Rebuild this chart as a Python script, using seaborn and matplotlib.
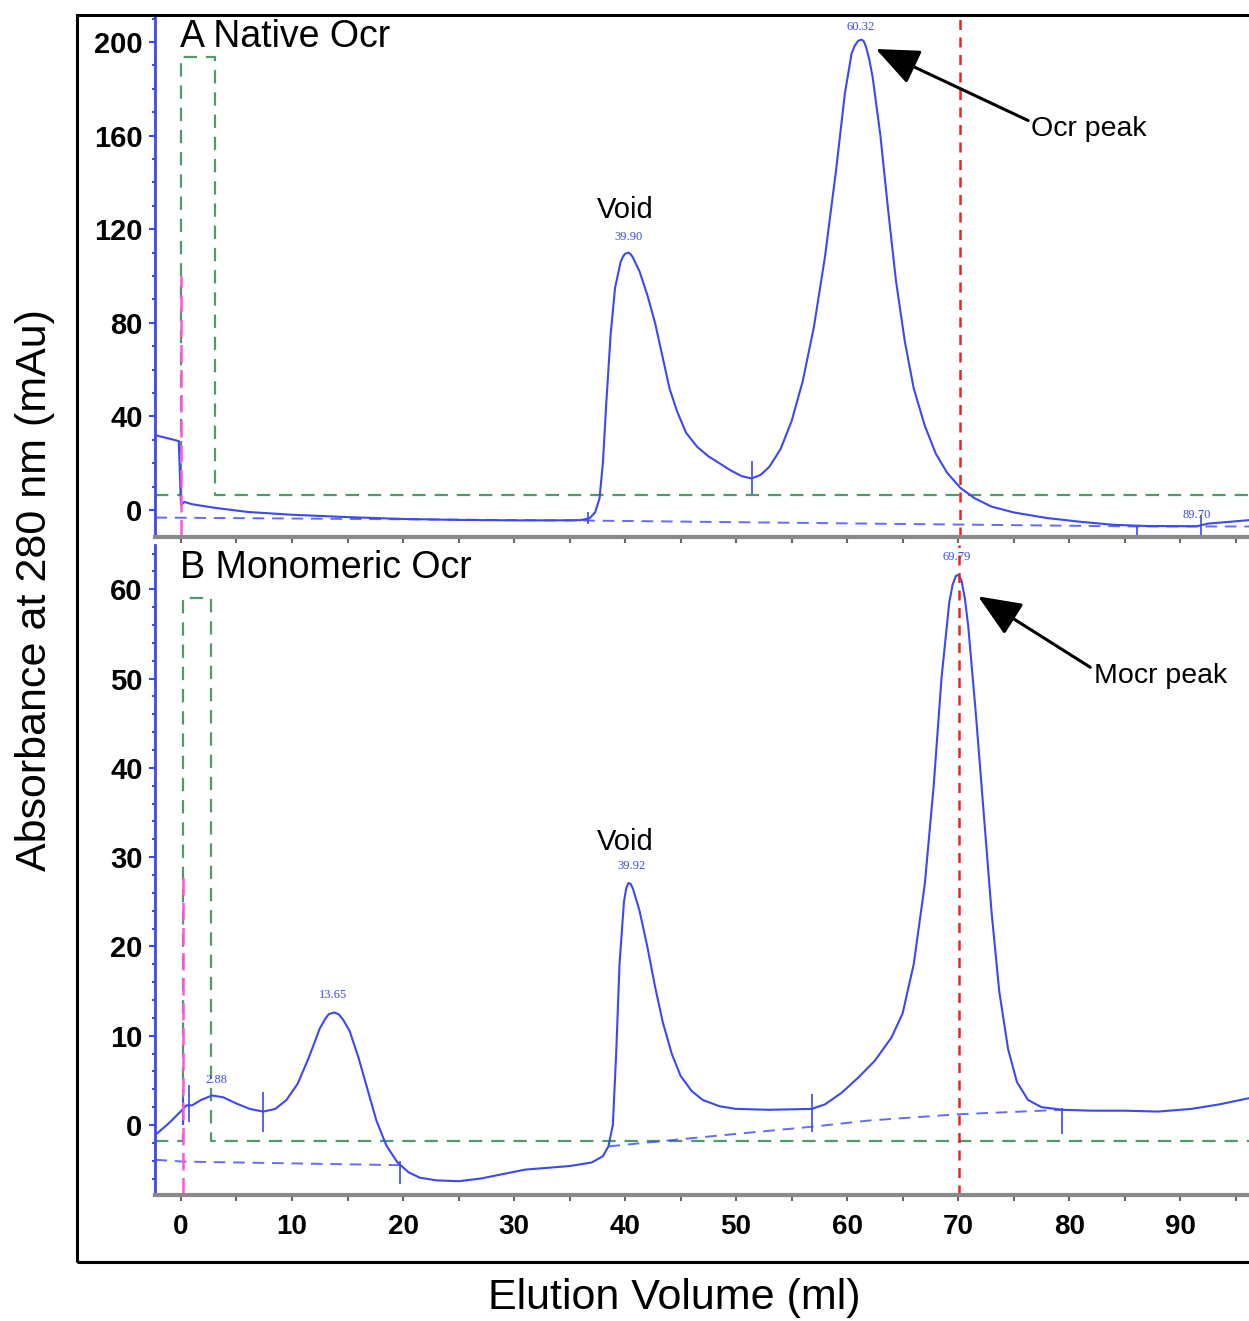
import numpy as np
import pandas as pd
import seaborn as sns
import matplotlib.pyplot as plt
from matplotlib.patches import Rectangle

# ---- data (elution volume ml, absorbance mAu) ----
native_ml = [-2.3, -0.2, 0.0, 0.3, 1, 3, 6, 10, 15, 20, 25, 30, 34, 36, 36.8, 37.3, 37.7,
             38.0, 38.3, 38.7, 39.1, 39.6, 39.8, 40.0, 40.3, 40.5, 40.7, 41.3, 42.0, 42.7,
             43.4, 44.0, 44.7, 45.5, 46.5, 47.5, 48.5, 49.5, 50.5, 51.4, 52.2, 53.0, 54.0,
             55.0, 56.0, 57.0, 58.0, 59.0, 59.8, 60.4, 60.7, 61.0, 61.3, 61.5, 61.7, 62.0,
             62.3, 63.0, 63.7, 64.4, 65.2, 66.0, 67.0, 68.0, 69.0, 70.2, 71.5, 73.0, 75.0,
             78.0, 81.0, 84.0, 87.0, 91.5, 92.5, 94.0, 96.2]
native_mau = [32, 29.5, 2, 3.5, 2.5, 1, -0.8, -2, -3, -3.8, -4.2, -4.4, -4.4, -4.3, -3.5, -1,
              5, 20, 45, 75, 95, 106, 108.2, 109.5, 110, 109.3, 108, 102, 92, 80, 65, 52, 42,
              33, 27, 23, 20, 17, 14.5, 13.5, 15, 18.5, 26, 38, 55, 78, 108, 145, 178, 195,
              198.5, 200.5, 201, 200.3, 198, 192.5, 185, 160, 128, 98, 72, 52, 36, 24, 16,
              9.5, 5, 1.5, -1, -3.4, -5, -6.3, -6.8, -6.9, -5.8, -5.2, -4.3]
native_base_ml = [-2.3, 36.7, 86.0, 96.2]
native_base_mau = [-3.2, -4.5, -7.0, -7.0]
native_gradient_ml = [-2.3, 0.0, 0.0, 3.1, 3.1, 96.2]
native_gradient_mau = [6.4, 6.4, 193.6, 193.6, 6.4, 6.4]
native_marks_ml = [36.7, 51.4, 86.1, 91.9]
native_marks_lo = [-6, 7, -12, -12]
native_marks_hi = [-1, 21, -6.5, -2]
native_peak_ml = [40.3, 61.2, 91.5]
native_peak_mau = [114, 204, -4.5]
native_peak_txt = ["39.90", "60.32", "89.70"]

mono_ml = [-2.3, -1, 0.2, 0.5, 1.0, 1.8, 2.8, 3.8, 5, 6.2, 7.4, 8.5, 9.5, 10.5, 11.5, 12.5,
           13.0, 13.3, 13.8, 14.2, 14.6, 15.2, 16.0, 16.8, 17.6, 18.5, 19.5, 20.5, 21.5, 23,
           25, 27, 29, 31, 33, 35, 37, 38, 38.5, 38.9, 39.2, 39.5, 39.9, 40.1, 40.3, 40.5,
           40.7, 41.3, 42.0, 42.7, 43.4, 44.2, 45.0, 46.0, 47.0, 48.5, 50, 53, 56.8, 58,
           59.5, 61, 62.5, 64, 65, 66, 67, 67.8, 68.5, 69.2, 69.5, 69.8, 70.0, 70.3, 70.6,
           70.9, 71.6, 72.3, 73.0, 73.7, 74.5, 75.3, 76.3, 77.5, 79.4, 82, 85, 88, 91, 93.5,
           96.2]
mono_mau = [-1.1, 0.3, 1.8, 2.2, 2.2, 2.8, 3.3, 3.1, 2.4, 1.8, 1.5, 1.8, 2.8, 4.6, 7.5, 10.8,
            11.9, 12.4, 12.6, 12.4, 11.8, 10.5, 7.5, 4.0, 0.5, -2.3, -4.2, -5.3, -5.9, -6.2,
            -6.3, -6.0, -5.5, -5.0, -4.8, -4.6, -4.2, -3.5, -2.4, 0, 8, 18, 25, 26.5, 27.1,
            27.0, 26.5, 24, 20, 15.5, 11.5, 8, 5.5, 3.8, 2.8, 2.1, 1.8, 1.7, 1.8, 2.3, 3.6,
            5.3, 7.2, 9.8, 12.5, 18, 27, 38, 50, 58.5, 60.5, 61.5, 61.6, 61, 59, 56, 46, 35,
            24, 15, 8.5, 4.8, 2.8, 2.0, 1.7, 1.6, 1.6, 1.5, 1.8, 2.3, 3.0]
mono_base1_ml = [-2.3, 0.2, 19.7]
mono_base1_mau = [-3.9, -4.1, -4.5]
mono_base2_ml = [38.5, 45, 50, 56.8, 62, 70, 79.4]
mono_base2_mau = [-2.4, -1.6, -1.0, -0.2, 0.5, 1.2, 1.7]
mono_gradient_ml = [-2.3, 0.2, 0.2, 2.7, 2.7, 96.2]
mono_gradient_mau = [-1.8, -1.8, 59, 59, -1.8, -1.8]
mono_marks_ml = [0.2, 0.7, 7.4, 19.7, 56.8, 79.4]
mono_marks_lo = [0, 0.3, -0.8, -6.6, -0.8, -1]
mono_marks_hi = [3, 4.5, 3.7, -4, 3.5, 1.9]
mono_peak_ml = [3.2, 13.7, 40.6, 69.9]
mono_peak_mau = [4.4, 13.9, 28.3, 62.9]
mono_peak_txt = ["2.88", "13.65", "39.92", "69.79"]

x_ticks = [0, 10, 20, 30, 40, 50, 60, 70, 80, 90]
native_yticks = [0, 40, 80, 120, 160, 200]
mono_yticks = [0, 10, 20, 30, 40, 50, 60]

BLUE = "#3c48f0"
GREEN = "#4f9a6c"

sns.set_style("white")
plt.rcParams["font.family"] = ["Liberation Sans", "DejaVu Sans"]
plt.rcParams["text.color"] = "black"
plt.rcParams["xtick.labelcolor"] = "black"
plt.rcParams["ytick.labelcolor"] = "black"

fig = plt.figure(figsize=(12.49, 13.21), dpi=100)
ax_a = fig.add_axes([0.1241, 0.5935, 0.8759, 0.3951])
ax_b = fig.add_axes([0.1241, 0.0954, 0.8759, 0.4920])

# outer frame of the figure
fig.patches.append(Rectangle((0.0617, 0.0447), 1.2, 0.9439, transform=fig.transFigure,
                             fill=False, edgecolor="black", linewidth=2.2, zorder=0))


def style_axes(ax, ylim, yticks, yminor, show_xlabels):
    ax.set_xlim(-2.34, 96.2)
    ax.set_ylim(*ylim)
    ax.set_xticks(x_ticks)
    ax.set_xticks(np.arange(0, 100, 5), minor=True)
    ax.set_yticks(yticks)
    ax.set_yticks(yminor, minor=True)
    for s in ["top", "right"]:
        ax.spines[s].set_visible(False)
    ax.spines["left"].set_color(BLUE)
    ax.spines["left"].set_linewidth(2)
    ax.spines["bottom"].set_color("#8a8a8a")
    ax.spines["bottom"].set_linewidth(3)
    ax.tick_params(axis="y", which="both", direction="out", color=BLUE, length=4, width=1.5,
                   left=True, labelsize=21, pad=5, labelcolor="black")
    ax.tick_params(axis="y", which="minor", length=2)
    ax.tick_params(axis="x", which="both", direction="out", color="#666666", length=4,
                   width=1.5, bottom=True, labelsize=20, pad=10, labelcolor="black")
    for lab in ax.get_yticklabels() + ax.get_xticklabels():
        lab.set_fontweight("bold")
    if not show_xlabels:
        ax.set_xticklabels([])
    ax.patch.set_alpha(0)


arrow_style = dict(arrowstyle="-|>,head_length=1.3,head_width=0.55", color="black",
                   lw=2.2, shrinkA=0, shrinkB=0, relpos=(0, 0.75))

# ---- panel A ----
sns.lineplot(x=native_gradient_ml, y=native_gradient_mau, ax=ax_a, sort=False, estimator=None,
             color=GREEN, lw=1.6, linestyle=(0, (6, 4)))
sns.lineplot(x=native_base_ml, y=native_base_mau, ax=ax_a, sort=False, estimator=None,
             color=BLUE, lw=1.4, linestyle=(0, (6, 4)), alpha=0.8)
sns.lineplot(x=native_ml, y=native_mau, ax=ax_a, sort=False, estimator=None, color=BLUE, lw=1.5)
ax_a.vlines(native_marks_ml, native_marks_lo, native_marks_hi, color=BLUE, lw=1.2)
ax_a.vlines(0.0, -11.5, 100, color="#ff55dd", lw=1.8, linestyles=(0, (7, 3)))
ax_a.axvline(70.2, color="#ee2222", lw=1.8, linestyle=(0, (4, 3)))
for x, y, t in zip(native_peak_ml, native_peak_mau, native_peak_txt):
    ax_a.text(x, y, t, color=BLUE, fontsize=9, ha="center", va="bottom", family="Liberation Serif")
ax_a.text(-0.1, 202, "A Native Ocr", fontsize=27, ha="left", va="center", color="black")
ax_a.text(40.0, 128, "Void", fontsize=21, ha="center", va="center", color="black")
ax_a.annotate("Ocr peak", xy=(62.6, 197), xytext=(76.6, 163), fontsize=20.5, ha="left",
              va="center", color="black", arrowprops=arrow_style)
style_axes(ax_a, (-11.5, 211.5), native_yticks, np.arange(0, 211, 10), False)

# ---- panel B ----
sns.lineplot(x=mono_gradient_ml, y=mono_gradient_mau, ax=ax_b, sort=False, estimator=None,
             color=GREEN, lw=1.6, linestyle=(0, (6, 4)))
sns.lineplot(x=mono_base1_ml, y=mono_base1_mau, ax=ax_b, sort=False, estimator=None,
             color=BLUE, lw=1.4, linestyle=(0, (6, 4)), alpha=0.8)
sns.lineplot(x=mono_base2_ml, y=mono_base2_mau, ax=ax_b, sort=False, estimator=None,
             color=BLUE, lw=1.4, linestyle=(0, (6, 4)), alpha=0.8)
sns.lineplot(x=mono_ml, y=mono_mau, ax=ax_b, sort=False, estimator=None, color=BLUE, lw=1.5)
ax_b.vlines(mono_marks_ml, mono_marks_lo, mono_marks_hi, color=BLUE, lw=1.2)
ax_b.vlines(0.2, -7.84, 28.5, color="#ff55dd", lw=1.8, linestyles=(0, (7, 3)))
ax_b.axvline(70.1, color="#ee2222", lw=1.8, linestyle=(0, (4, 3)))
for x, y, t in zip(mono_peak_ml, mono_peak_mau, mono_peak_txt):
    ax_b.text(x, y, t, color=BLUE, fontsize=9, ha="center", va="bottom", family="Liberation Serif")
ax_b.text(-0.1, 62.4, "B Monomeric Ocr", fontsize=27, ha="left", va="center", color="black")
ax_b.text(40.0, 31.7, "Void", fontsize=21, ha="center", va="center", color="black")
ax_b.annotate("Mocr peak", xy=(71.8, 59.2), xytext=(82.2, 50.3), fontsize=20.5, ha="left",
              va="center", color="black", arrowprops=arrow_style)
style_axes(ax_b, (-7.84, 64.95), mono_yticks, np.arange(-6, 65, 2), True)

for ax in (ax_a, ax_b):
    ax.set_xlabel("")
    ax.set_ylabel("")
    if ax.get_legend():
        ax.get_legend().remove()

fig.text(0.028, 0.5534, "Absorbance at 280 nm (mAu)", rotation=90, fontsize=31,
         ha="center", va="center", color="black")
fig.text(0.540, 0.0174, "Elution Volume (ml)", fontsize=31, ha="center", va="center",
         color="black")

fig.savefig("out.png", dpi=100)
